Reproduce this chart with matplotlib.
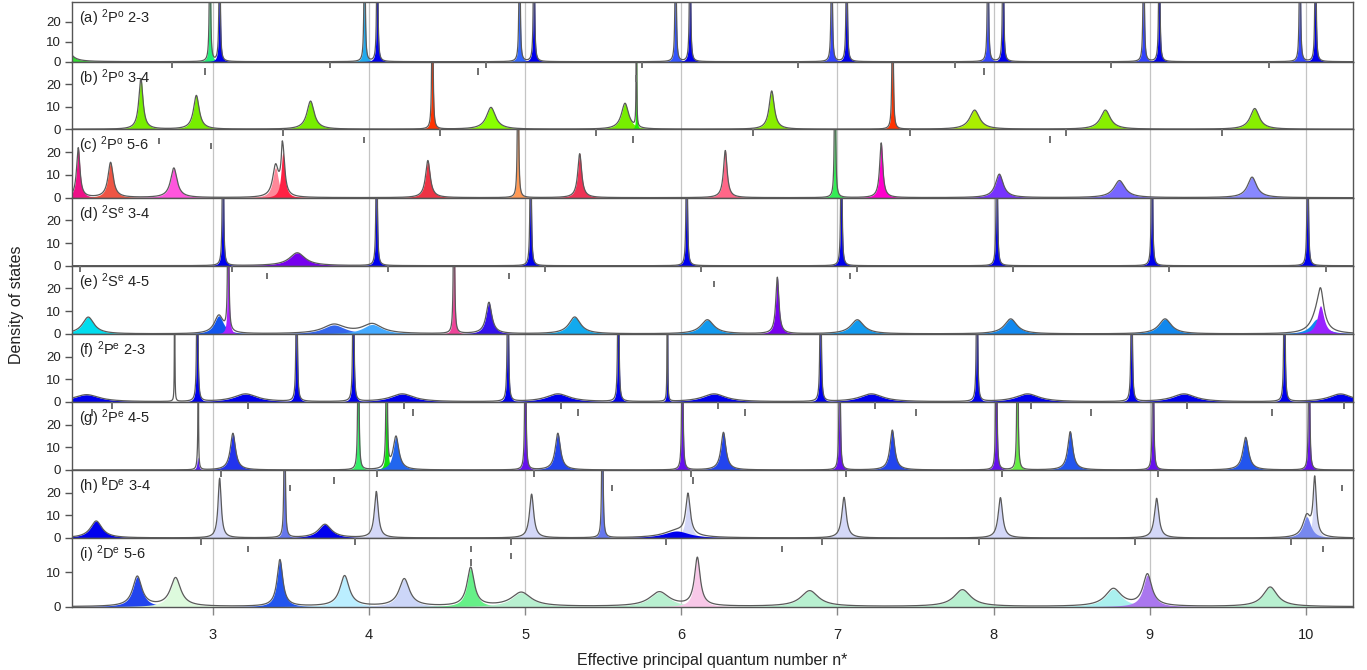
import numpy as np
import matplotlib
matplotlib.use("Agg")
import matplotlib.pyplot as plt

plt.rcParams["font.family"] = ["Liberation Sans", "DejaVu Sans"]
plt.rcParams["mathtext.fontset"] = "custom"
plt.rcParams["mathtext.rm"] = "Liberation Sans"
plt.rcParams["mathtext.it"] = "Liberation Sans:italic"

# ---------------------------------------------------------------------------
# Resonance parameters for each symmetry / threshold window:
# position in n*, peak density, Lorentzian half width, fill colour
# ---------------------------------------------------------------------------
a_pos = [2.055, 2.983, 3.045, 3.973, 4.054, 4.965, 5.057, 5.964, 6.056,
         6.963, 7.059, 7.963, 8.060, 8.960, 9.060, 9.960, 10.060]
a_height = [10, 100, 100, 100, 100, 100, 100, 100, 100,
            100, 100, 100, 100, 100, 100, 100, 100]
a_width = [0.032, 0.0033, 0.0033, 0.0033, 0.0033, 0.0033, 0.0033, 0.0033,
           0.0033, 0.0033, 0.0033, 0.0033, 0.0033, 0.0033, 0.0033, 0.0033,
           0.0033]
a_color = ["#33dd33", "#22ee77", "#0000ee", "#22aaee", "#0000ee", "#3366ff",
           "#0000ee", "#3355ff", "#0000ee", "#3344ff", "#0000ee", "#3344ff",
           "#0000ee", "#3344ff", "#0000ee", "#3344ff", "#0000ee"]

b_pos = [2.541, 2.896, 3.627, 4.407, 4.782, 5.640, 5.713, 6.579, 7.353,
         7.878, 8.715, 9.671]
b_height = [22.5, 15, 12.5, 100, 9.7, 11.5, 100, 17, 100, 8.5, 8.5, 9.2]
b_width = [0.016, 0.022, 0.028, 0.0033, 0.035, 0.028, 0.0015, 0.02, 0.0033,
           0.038, 0.038, 0.035]
b_color = ["#77ee00", "#77ee00", "#77ee00", "#ff3300", "#88ff00", "#77ee00",
           "#22ee00", "#88ee00", "#ff3300", "#aaee00", "#88ee00", "#88ee00"]

c_pos = [3.445, 2.140, 2.347, 2.752, 3.403, 3.450, 4.378, 4.955, 5.350,
         6.282, 6.984, 7.280, 8.036, 8.805, 9.654]
c_height = [4, 21.8, 15.4, 13, 13.2, 19.9, 16.3, 100, 19.3, 20.7, 100, 24,
            10.3, 7.5, 9.0]
c_width = [0.004, 0.013, 0.02, 0.025, 0.022, 0.014, 0.018, 0.0033, 0.015,
           0.014, 0.0033, 0.012, 0.03, 0.042, 0.035]
c_color = ["#ffffff", "#ee1188", "#ee5544", "#ff55dd", "#ff8899", "#ff2244",
           "#ee3344", "#ff9955", "#ee3355", "#ff6688", "#33ee55", "#ff00cc",
           "#7733ff", "#7766ff", "#8888ff"]

d_pos = [3.066, 3.542, 4.050, 5.036, 6.035, 7.025, 8.020, 9.013, 10.010]
d_height = [100, 5.7, 100, 100, 100, 100, 100, 100, 100]
d_width = [0.0033, 0.06, 0.0033, 0.0033, 0.0033, 0.0033, 0.0033, 0.0033,
           0.0033]
d_color = ["#0000ee", "#7700ee", "#0000ee", "#0000ee", "#0000ee", "#0000ee",
           "#0000ee", "#0000ee", "#0000ee"]

e_pos = [10.095, 2.204, 3.040, 3.100, 3.777, 4.022, 4.545, 4.769, 5.318,
         6.167, 6.615, 7.127, 8.109, 9.097, 10.070, 10.092]
e_height = [2.5, 7.4, 8.0, 100, 4.0, 4.2, 100, 13.8, 7.4, 6.2, 24.8, 6.2,
            6.6, 6.6, 6.6, 12.4]
e_width = [0.02, 0.045, 0.035, 0.0033, 0.085, 0.075, 0.0033, 0.022, 0.045,
           0.05, 0.012, 0.05, 0.048, 0.048, 0.048, 0.025]
e_color = ["#ffffff", "#00ddee", "#1155ee", "#aa22ff", "#3366ee", "#44aaff",
           "#ee4499", "#3311ee", "#11aaee", "#1199ee", "#7700ee", "#1199ee",
           "#1188ee", "#1188ee", "#1188ee", "#9922ff"]

f_pos = [2.757, 2.193, 2.902, 3.211, 3.538, 3.901, 4.214, 4.890, 5.210,
         5.597, 5.911, 6.210, 6.892, 7.217, 7.893, 8.216, 8.883, 9.218,
         9.861, 10.220]
f_height = [100, 3.2, 100, 3.5, 100, 100, 3.5, 100, 3.5, 100, 100, 3.5,
            100, 3.5, 100, 3.5, 100, 3.5, 100, 3.5]
f_width = [0.0012, 0.1, 0.0033, 0.09, 0.0033, 0.0033, 0.09, 0.0033, 0.09,
           0.0033, 0.0015, 0.09, 0.0033, 0.09, 0.0033, 0.09, 0.0033, 0.09,
           0.0033, 0.09]
f_color = ["#ffffff"] + ["#0000ee"] * 19

g_pos = [2.908, 2.905, 3.130, 3.933, 4.114, 4.174, 5.002, 5.210, 6.007,
         6.270, 7.014, 7.351, 8.017, 8.152, 8.490, 9.020, 9.613, 10.019]
g_height = [100, 5.6, 16.2, 100, 100, 14.7, 100, 16.2, 100, 16.6, 100, 17.6,
            100, 100, 16.9, 100, 14.4, 100]
g_width = [0.0012, 0.006, 0.02, 0.0033, 0.0033, 0.022, 0.0033, 0.02, 0.0033,
           0.019, 0.0033, 0.018, 0.0033, 0.0033, 0.019, 0.0033, 0.022, 0.0033]
g_color = ["#ffffff", "#5522ee", "#2233ee", "#33ee66", "#11dd11", "#2266ee",
           "#6611ee", "#2244ee", "#6611ee", "#2244ee", "#6611ee", "#2244ee",
           "#6611ee", "#66ee44", "#2255ee", "#6611ee", "#2255ee", "#6611ee"]

h_pos = [2.255, 3.045, 3.461, 3.719, 4.048, 5.042, 5.495, 6.043, 5.970,
         7.042, 8.043, 9.043, 10.055, 10.004]
h_height = [7.5, 26.3, 100, 6.0, 20.4, 19.3, 100, 17.8, 3.1, 17.9, 17.8,
            17.5, 25, 9.4]
h_width = [0.045, 0.012, 0.0033, 0.05, 0.015, 0.016, 0.0033, 0.017, 0.1,
           0.017, 0.017, 0.017, 0.012, 0.03]
h_color = ["#0000ee", "#d4d8f8", "#6677ee", "#0000ee", "#d4d8f8", "#d4d8f8",
           "#6677ee", "#d4d8f8", "#0000ee", "#d4d8f8", "#d4d8f8", "#d4d8f8",
           "#d4d8f8", "#7788ee"]

i_pos = [2.518, 2.763, 3.431, 3.845, 4.227, 4.652, 4.976, 5.860, 6.103,
         6.822, 7.800, 8.766, 8.984, 9.770]
i_height = [8.7, 8.3, 13.6, 8.9, 8.0, 11.2, 4.1, 4.2, 14.0, 4.6, 4.9, 5.1,
            9.2, 5.7]
i_width = [0.035, 0.04, 0.022, 0.036, 0.04, 0.028, 0.075, 0.075, 0.022,
           0.068, 0.065, 0.062, 0.034, 0.055]
i_color = ["#2244ee", "#ddfadd", "#2255ee", "#bbeeff", "#ccd6f8", "#66f088",
           "#b8f0d0", "#b8f0d0", "#f8c8e8", "#b8f0d0", "#b8f0d0", "#aaf0ee",
           "#aa77ee", "#b8f0d0"]

# Threshold markers: ticks hanging from the top edge, and free-standing marks
b_edge = [2.74, 3.75, 4.75, 5.75, 6.75, 7.75, 8.75, 9.76]
b_mark_x = [2.95, 4.70, 5.71, 7.94]
b_mark_top = [27, 27, 24, 27]
c_edge = [3.45, 4.455, 5.456, 6.459, 7.462, 8.461, 9.464]
c_mark_x = [2.66, 2.99, 3.97, 5.69, 8.36]
c_mark_top = [26.3, 24.1, 26.8, 26.9, 26.9]
e_edge = [2.15, 3.126, 4.125, 5.125, 6.124, 7.123, 8.124, 9.125, 10.125]
e_mark_x = [3.35, 4.897, 6.21, 7.078]
e_mark_top = [26.9, 26.9, 23.4, 26.9]
g_edge = [2.357, 3.226, 4.225, 5.232, 6.235, 7.238, 8.237, 9.24, 10.243]
g_mark_x = [2.23, 4.285, 5.338, 6.408, 7.50, 8.625, 9.784]
g_mark_top = [26.9, 26.9, 26.9, 26.9, 26.9, 26.9, 26.9]
h_edge = [3.051, 4.054, 5.057, 6.06, 7.057, 8.055, 9.052]
h_mark_x = [2.30, 3.495, 3.777, 5.556, 6.075, 10.23]
h_mark_top = [26.9, 23.4, 26.9, 23.4, 26.9, 23.4]
i_edge = [2.923, 3.909, 4.908, 5.905, 6.903, 7.904, 8.903, 9.90]
i_mark_x = [3.226, 4.652, 4.652, 4.908, 6.643, 10.11]
i_mark_top = [17.7, 17.7, 13.8, 15.7, 17.7, 17.7]

labels = [r"(a) $^{2}$P$^{\rm o}$ 2-3", r"(b) $^{2}$P$^{\rm o}$ 3-4",
          r"(c) $^{2}$P$^{\rm o}$ 5-6", r"(d) $^{2}$S$^{\rm e}$ 3-4",
          r"(e) $^{2}$S$^{\rm e}$ 4-5", r"(f) $^{2}$P$^{\rm e}$ 2-3",
          r"(g) $^{2}$P$^{\rm e}$ 4-5", r"(h) $^{2}$D$^{\rm e}$ 3-4",
          r"(i) $^{2}$D$^{\rm e}$ 5-6"]

panels = [
    (a_pos, a_height, a_width, a_color, [], [], []),
    (b_pos, b_height, b_width, b_color, b_edge, b_mark_x, b_mark_top),
    (c_pos, c_height, c_width, c_color, c_edge, c_mark_x, c_mark_top),
    (d_pos, d_height, d_width, d_color, [], [], []),
    (e_pos, e_height, e_width, e_color, e_edge, e_mark_x, e_mark_top),
    (f_pos, f_height, f_width, f_color, [], [], []),
    (g_pos, g_height, g_width, g_color, g_edge, g_mark_x, g_mark_top),
    (h_pos, h_height, h_width, h_color, h_edge, h_mark_x, h_mark_top),
    (i_pos, i_height, i_width, i_color, i_edge, i_mark_x, i_mark_top),
]
ytops = [30, 30, 30, 30, 30, 30, 30, 30, 20]

# ---------------------------------------------------------------------------
W, H = 1367, 670
fig = plt.figure(figsize=(W / 100, H / 100), dpi=100)

x_left, x_right = 72, 1353
zero_rows = [61.7, 129.3, 197.7, 265.7, 334.0, 402.0, 470.0, 538.0, 606.7]
top_rows = [2.0] + zero_rows[:-1]

xgrid = np.linspace(2.1, 10.3, 40000)
spine_col = "#555555"

for k, (pos, hgt, wid, col, edge, mx, mtop) in enumerate(panels):
    top_px, bot_px = top_rows[k], zero_rows[k]
    ax = fig.add_axes([x_left / W, 1 - bot_px / H,
                       (x_right - x_left) / W, (bot_px - top_px) / H])
    ymax = ytops[k]
    ax.set_xlim(2.1, 10.3)
    ax.set_ylim(0, ymax)
    px_per_unit = (bot_px - top_px) / ymax

    total = np.zeros_like(xgrid)
    for c0, h0, w0, fc in zip(pos, hgt, wid, col):
        prof = h0 / (1.0 + ((xgrid - c0) / w0) ** 2)
        total += prof
        ax.fill_between(xgrid, 0, prof, color=fc, lw=0, zorder=2)
    ax.plot(xgrid, total, color="#5a5a5a", lw=0.9, zorder=3)

    for xv in range(3, 11):
        ax.axvline(xv, color="#c4c4c4", lw=0.9, zorder=1)

    L = 6.5 / px_per_unit
    if len(edge):
        ax.vlines(edge, ymax - L, ymax, colors="#707070", lw=1.4, zorder=5)
    if len(mx):
        mt = np.asarray(mtop)
        ax.vlines(mx, mt - L, mt, colors="#707070", lw=1.4, zorder=5)

    for s in ax.spines.values():
        s.set_color(spine_col)
        s.set_linewidth(1.0)

    ax.set_yticks([0, 10, 20] if ymax == 30 else [0, 10])
    ax.tick_params(axis="y", direction="out", length=5, width=1,
                   color=spine_col, labelsize=9.5, pad=3, labelcolor="#222222")
    ax.set_xticks(range(3, 11))
    if k < len(panels) - 1:
        ax.tick_params(axis="x", bottom=False, labelbottom=False)
    else:
        ax.tick_params(axis="x", direction="out", length=6, width=1,
                       color="#888888", labelsize=10.5, pad=9,
                       labelcolor="#222222")

    ax.annotate(labels[k], xy=(0, 1), xycoords="axes fraction",
                xytext=(7, -21), textcoords="offset pixels",
                ha="left", va="baseline", fontsize=10.5, color="#222222",
                zorder=6)

fig.text(0.012, (1 - (2 + 606.7) / 2 / H), "Density of states",
         rotation=90, ha="center", va="center", fontsize=11.5,
         color="#222222")
fig.text((x_left + x_right) / 2 / W, 1 - 660 / H,
         "Effective principal quantum number n*", ha="center", va="center",
         fontsize=11.5, color="#222222")

fig.savefig("out.png", dpi=100)
